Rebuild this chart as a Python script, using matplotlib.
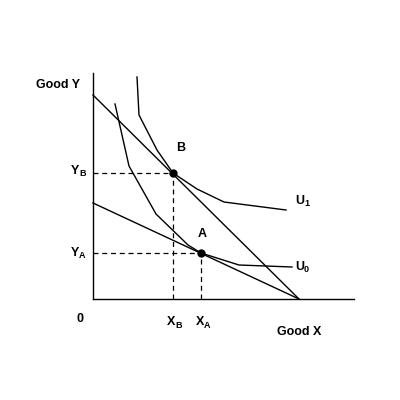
import matplotlib.pyplot as plt

# pixel-like coordinates measured from origin (x right, y up)
budget1_x = [0, 206]
budget1_y = [204, 0]
budget2_x = [0, 206]
budget2_y = [96, 0]
u1_x = [44, 46, 64, 80, 104, 131, 193]
u1_y = [222, 184, 149, 126, 110, 97, 89]
u0_x = [22, 36, 63, 95, 108, 146, 199]
u0_y = [195, 133, 85, 54, 46, 34, 32]
pt_x = [80, 108]
pt_y = [126, 46]

fig = plt.figure(figsize=(4, 4), dpi=100)
ax = fig.add_axes([0, 0, 1, 1])
ax.set_xlim(-93, 307)
ax.set_ylim(-101, 299)
ax.axis('off')

k = dict(color='black', lw=1)
ax.plot([0, 0], [0, 226], **k)
ax.plot([0, 261], [0, 0], **k)
ax.plot(budget1_x, budget1_y, **k)
ax.plot(budget2_x, budget2_y, **k)
ax.plot(u1_x, u1_y, **k)
ax.plot(u0_x, u0_y, **k)
for x, y in zip(pt_x, pt_y):
    ax.plot([0, x], [y, y], color='black', lw=0.9, ls='--', dashes=(4, 3))
    ax.plot([x, x], [0, y], color='black', lw=0.9, ls='--', dashes=(4, 3))
ax.plot(pt_x, pt_y, 'o', color='black', ms=5)

t = dict(fontsize=9, family='Liberation Sans', fontweight='bold', va='center')
ax.text(-57, 214, 'Good Y', ha='left', **t)
ax.text(-13, -20, '0', ha='center', **t)
ax.text(206, -33, 'Good X', ha='center', **t)
ax.text(88, 151, 'B', ha='center', **t)
ax.text(109, 65, 'A', ha='center', **t)


def sub(x, y, big, small):
    ax.text(x, y, big, ha='right', **t)
    ax.text(x, y - 3, small, ha='left', fontsize=6.5, family='Liberation Sans',
            fontweight='bold', va='center')


sub(-14, 128, 'Y', 'B')
sub(-14, 46, 'Y', 'A')
sub(82, -23, 'X', 'B')
sub(111, -23, 'X', 'A')
sub(211, 98, 'U', '1')
sub(211, 32, 'U', '0')

fig.savefig('out.png')
